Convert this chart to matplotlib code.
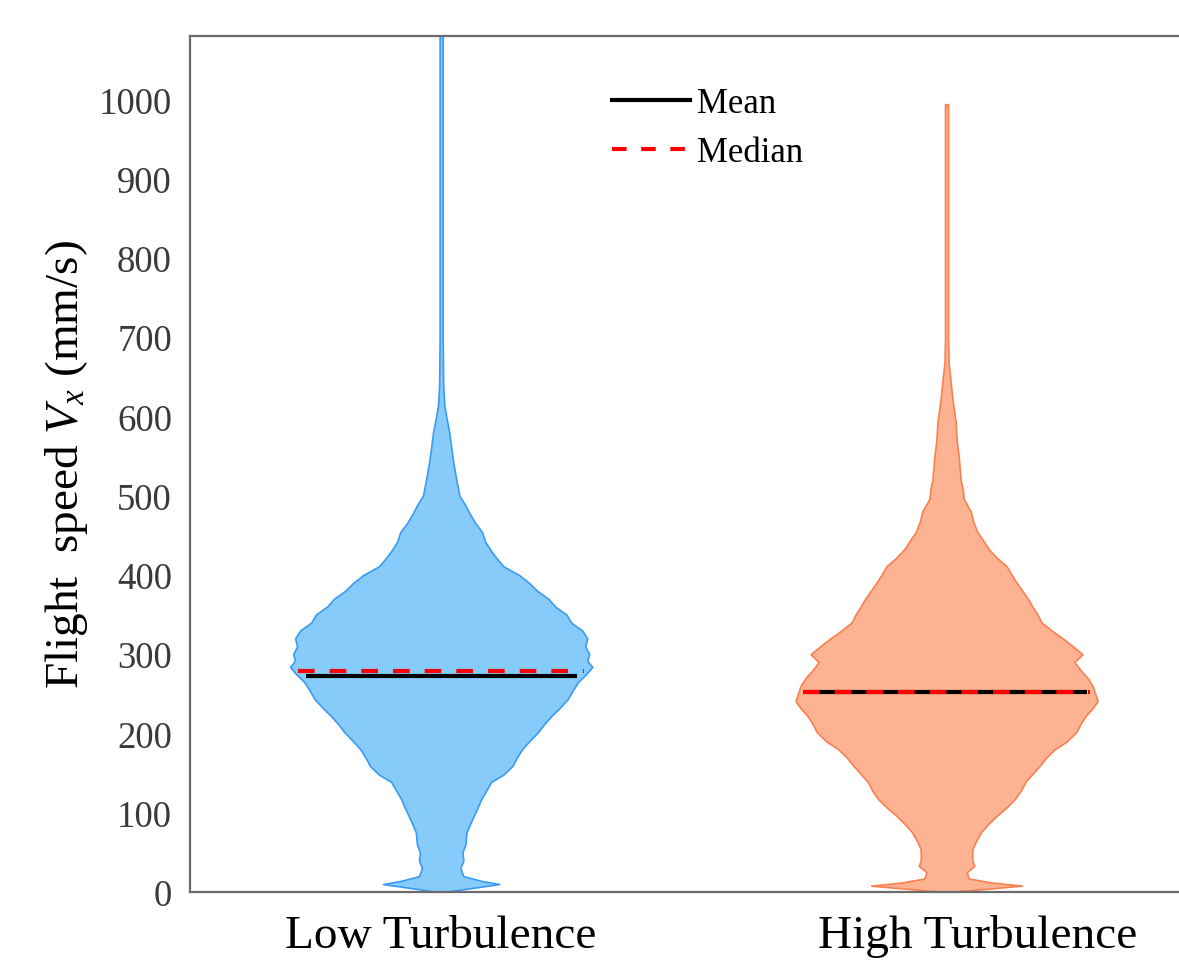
import numpy as np
import matplotlib
matplotlib.use("Agg")
import matplotlib.pyplot as plt
from matplotlib.lines import Line2D

plt.rcParams['font.family'] = ['Liberation Serif', 'DejaVu Serif']
plt.rcParams['mathtext.fontset'] = 'custom'
plt.rcParams['mathtext.rm'] = 'Liberation Serif'
plt.rcParams['mathtext.it'] = 'Liberation Serif:italic'

# --- data -------------------------------------------------------------
categories = ["Low Turbulence", "High Turbulence"]

# speed levels (mm/s) and half-width of the violin (density, scaled)
low_speed = [0, 5, 10, 14, 20, 30, 40, 50, 60, 75, 90, 105, 117, 130, 139, 148,
             159, 170, 180, 190, 202, 212, 222, 232, 243, 255, 265, 275, 284,
             292, 300, 310, 320, 330, 340, 350, 360, 370, 380, 390, 400, 411,
             420, 430, 442, 454, 466, 479, 490, 500, 520, 542, 560, 580, 600,
             615, 640, 700, 1080]
low_width = [0.006, 0.06, 0.115, 0.08, 0.044, 0.038, 0.044, 0.042, 0.048, 0.05,
             0.06, 0.071, 0.079, 0.091, 0.099, 0.123, 0.141, 0.150, 0.160,
             0.174, 0.192, 0.204, 0.218, 0.234, 0.250, 0.261, 0.271, 0.287,
             0.299, 0.289, 0.293, 0.285, 0.289, 0.279, 0.257, 0.248, 0.226,
             0.212, 0.190, 0.174, 0.154, 0.123, 0.111, 0.099, 0.087, 0.081,
             0.067, 0.055, 0.046, 0.036, 0.030, 0.024, 0.020, 0.016, 0.010,
             0.006, 0.004, 0.003, 0.003]

high_speed = [0, 4, 8, 12, 17, 25, 33, 40, 54, 65, 76, 86, 96, 107, 117, 128,
              139, 149, 159, 170, 180, 190, 202, 212, 222, 232, 241, 252, 260,
              270, 280, 290, 300, 310, 319, 330, 340, 350, 360, 369, 380, 390,
              400, 411, 422, 433, 445, 454, 467, 480, 496, 508, 520, 535, 550,
              570, 593, 620, 645, 668, 700, 994]
high_width = [0.006, 0.079, 0.149, 0.089, 0.044, 0.040, 0.055, 0.051, 0.051,
              0.059, 0.069, 0.083, 0.099, 0.119, 0.135, 0.147, 0.156, 0.170,
              0.184, 0.198, 0.214, 0.238, 0.257, 0.265, 0.275, 0.289, 0.299,
              0.293, 0.289, 0.279, 0.265, 0.253, 0.269, 0.250, 0.232, 0.208,
              0.188, 0.180, 0.170, 0.162, 0.150, 0.139, 0.129, 0.119, 0.099,
              0.083, 0.071, 0.061, 0.053, 0.048, 0.034, 0.032, 0.028, 0.026,
              0.024, 0.020, 0.018, 0.012, 0.008, 0.004, 0.003, 0.003]

means = [272, 252]
medians = [279, 252]

fill_colors = ["#87CBFA", "#FDB292"]
edge_colors = ["#3A9BF0", "#F98050"]

# --- plot -------------------------------------------------------------
fig = plt.figure(figsize=(11.79, 9.70), dpi=100)
ax = fig.add_axes([190/1179, 77/970, 989/1179, 856/970])

positions = [1, 2]
profiles = [(low_speed, low_width), (high_speed, high_width)]

for i, (spd, wid) in enumerate(profiles):
    spd = np.array(spd)
    wid = np.array(wid)
    p = positions[i]
    ax.fill_betweenx(spd, p - wid, p + wid, facecolor=fill_colors[i],
                     edgecolor=edge_colors[i], linewidth=1.2, zorder=2)
    wm = 0.95 * np.interp(means[i], spd, wid)
    wd = 0.97 * np.interp(medians[i], spd, wid)
    ax.plot([p - wm, p + wm], [means[i], means[i]], color="black", lw=3,
            solid_capstyle="butt", zorder=3)
    ax.plot([p - wd, p + wd], [medians[i], medians[i]], color="red", lw=3,
            dashes=(4, 3.6), dash_capstyle="butt", zorder=4)

ax.set_xlim(0.503, 2.46)
ax.set_ylim(0, 1080)
ax.set_yticks(range(0, 1001, 100))
ax.set_xticks([1, 2.061])
ax.set_xticklabels(categories)
ax.tick_params(axis="y", length=0, pad=13, labelsize=26.5, labelcolor="#3a3a3a")
ax.tick_params(axis="x", length=0, pad=16, labelsize=34, labelcolor="black")

for s in ["left", "top", "bottom"]:
    ax.spines[s].set_color("#6b6b6b")
    ax.spines[s].set_linewidth(1.6)
ax.spines["right"].set_visible(False)

ax.set_ylabel("Flight  speed $V_x$ (mm/s)", fontsize=34, labelpad=6)

handles = [Line2D([], [], color="black", lw=3),
           Line2D([], [], color="red", lw=3, dashes=(3.5, 3.5))]
fig.legend(handles, ["Mean", "Median"], loc="upper left",
           bbox_to_anchor=(0.519, 0.909), frameon=False, fontsize=25,
           handlelength=2.25, handletextpad=0.2, labelspacing=0.45,
           borderpad=0, borderaxespad=0)

fig.savefig("out.png", dpi=100)
